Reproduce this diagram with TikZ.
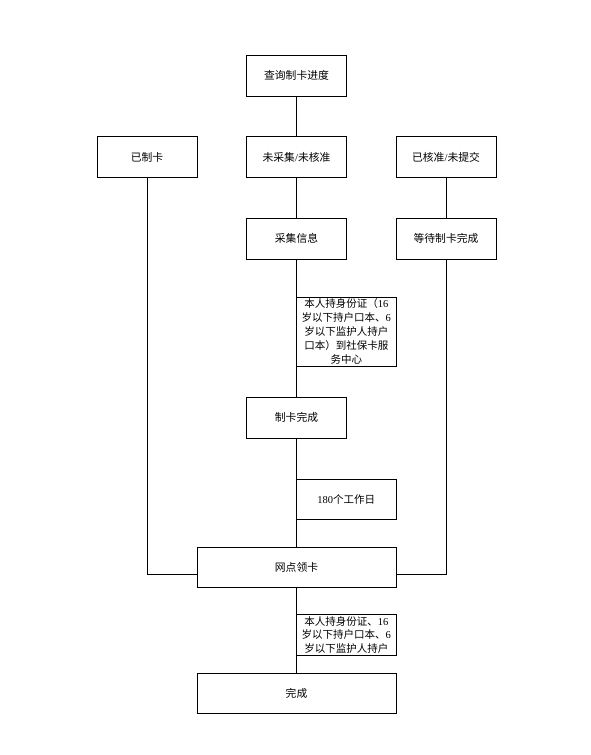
\documentclass[tikz,border=0pt]{standalone}
\usepackage{fontspec}
\setmainfont{Liberation Serif}
\newfontfamily\cjk{Noto Sans CJK SC}
\newcommand\lt[1]{{\rmfamily #1}}
\begin{document}
\begin{tikzpicture}[x=1pt,y=-1pt,
  box/.style={draw,line width=0.9pt,rectangle,inner sep=0pt,minimum width=100pt,minimum height=41pt,font=\fontsize{10.8}{13.8}\selectfont\cjk,align=center},
  wide/.style={box,minimum width=199pt,minimum height=40pt},
  lab/.style={box,minimum width=99.5pt,font=\fontsize{10.5}{13.8}\selectfont\cjk},
  conn/.style={line width=0.9pt}]
\useasboundingbox (0,0) rectangle (590,755);
\node[box] (q) at (296.5,75.5) {查询制卡进度};
\node[box] (a) at (147,157) {已制卡};
\node[box] (b) at (296.5,157) {未采集\lt{/}未核准};
\node[box] (c) at (446,157) {已核准\lt{/}未提交};
\node[box] (d) at (296.5,238.5) {采集信息};
\node[box] (e) at (446,238.5) {等待制卡完成};
\node[box] (f) at (296.5,417.5) {制卡完成};
\node[wide] (g) at (296.5,567) {网点领卡};
\node[wide] (h) at (296.5,693) {完成};
\draw[conn] (q) -- (b);
\draw[conn] (b) -- (d);
\draw[conn] (d) -- (f);
\draw[conn] (c) -- (e);
\draw[conn] (f) -- (g);
\draw[conn] (g) -- (h);
\draw[conn] (e.south) |- ([yshift=-7pt]g.east);
\draw[conn] (a.south) |- ([yshift=-7pt]g.west);
\node[lab,minimum height=69pt] (l1) at (346.25,331.5) {本人持身份证（\lt{16}\\岁以下持户口本、\lt{6}\\岁以下监护人持户\\口本）到社保卡服\\务中心};
\node[lab,minimum height=40pt] (l2) at (346.25,499) {\lt{180}个工作日};
\node[lab,minimum height=40.5pt] (l3) at (346.25,635) {本人持身份证、\lt{16}\\岁以下持户口本、\lt{6}\\岁以下监护人持户};
\end{tikzpicture}
\end{document}
